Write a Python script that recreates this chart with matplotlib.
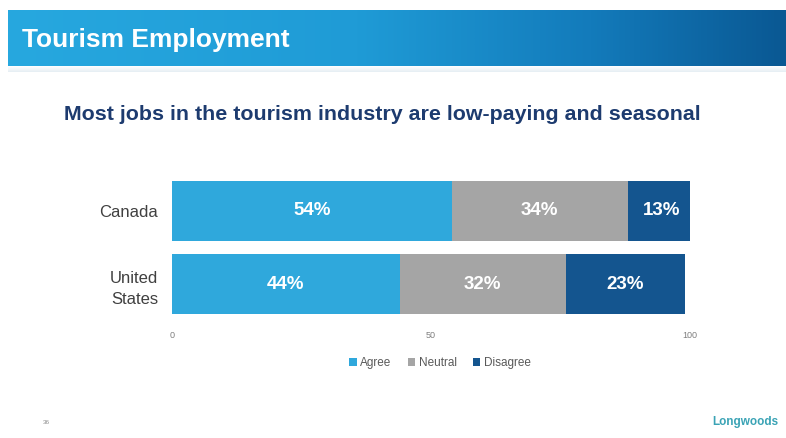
import numpy as np
import matplotlib
matplotlib.use("Agg")
import matplotlib.pyplot as plt
from matplotlib.colors import LinearSegmentedColormap
from matplotlib.patches import Patch

# Survey responses: "Most jobs in the tourism industry are low-paying and seasonal"
countries = ["Canada", "United\nStates"]
agree = [54, 44]
neutral = [34, 32]
disagree = [13, 23]
series_names = ["Agree", "Neutral", "Disagree"]
x_ticks = [0, 50, 100]

colors = ["#2fa8dc", "#a5a5a5", "#14558f"]

W, H = 786, 438
fig = plt.figure(figsize=(W / 100, H / 100), dpi=100)
fig.patch.set_facecolor("white")

# Header band with horizontal gradient
hdr = fig.add_axes([8 / W, 1 - 66 / H, 1 - 8 / W, 56 / H])
cmap = LinearSegmentedColormap.from_list(
    "hdr", [(0, "#27a8df"), (0.45, "#1f9bd6"), (0.75, "#137bbb"), (1, "#0a5893")])
grad = np.linspace(0, 1, 512).reshape(1, -1)
hdr.imshow(grad, aspect="auto", cmap=cmap, extent=[0, 1, 0, 1])
hdr.set_axis_off()
hdr.text(0.018, 0.47, "Tourism Employment", color="white", fontsize=19,
         fontweight="bold", va="center", ha="left", family="Liberation Sans")

# Soft shadow under the header
shadow = fig.add_axes([8 / W, 1 - 72 / H, 1 - 8 / W, 6 / H])
sh = np.linspace(0, 1, 32).reshape(-1, 1)
shadow.imshow(sh, aspect="auto", cmap=LinearSegmentedColormap.from_list(
    "sh", ["#ffffff", "#e6eef4"]), extent=[0, 1, 0, 1])
shadow.set_axis_off()

fig.text(382 / W, 1 - 115 / H,
         "Most jobs in the tourism industry are low-paying and seasonal",
         color="#1d3b6f", fontsize=15.4, fontweight="bold", ha="center",
         va="center", family="Liberation Sans")

# Stacked horizontal bars
ax = fig.add_axes([172 / W, 1 - 320 / H, (690 - 172) / W, 145 / H])
ypos = [1, 0]
left = np.zeros(len(countries))
for name, vals, col in zip(series_names, [agree, neutral, disagree], colors):
    vals = np.array(vals, dtype=float)
    ax.barh(ypos, vals, left=left, height=0.82, color=col, label=name)
    for y, l, v in zip(ypos, left, vals):
        ax.text(l + v / 2, y, f"{int(v)}%", color="white", fontsize=13.5,
                fontweight="bold", ha="center", va="center",
                family="Liberation Sans")
    left += vals

ax.set_xlim(0, 100)
ax.set_ylim(-0.493, 1.493)
ax.set_xticks(x_ticks)
ax.set_xticklabels([str(t) for t in x_ticks], fontsize=6.5, color="#7f7f7f",
                   family="Liberation Sans")
ax.set_yticks(ypos)
ax.set_yticklabels(countries, fontsize=12, color="#404040",
                   family="Liberation Sans", linespacing=1.5)
ax.tick_params(axis="both", length=0)
ax.tick_params(axis="x", pad=8)
ax.tick_params(axis="y", pad=10)
for s in ax.spines.values():
    s.set_visible(False)

handles = [Patch(facecolor=c, edgecolor="none") for c in colors]
fig.legend(handles, series_names, loc="center", bbox_to_anchor=(440 / W, 1 - 363 / H),
           ncol=3, frameon=False, handlelength=0.6, handleheight=0.6,
           handletextpad=0.3, columnspacing=1.4,
           prop={"family": "Liberation Sans", "size": 8.5}, labelcolor="#595959")

# Footer: page number and brand
fig.text(46 / W, 1 - 422 / H, "36", fontsize=4.5, color="#8c8c8c",
         ha="center", va="center", family="Liberation Sans")
fig.text(745 / W, 1 - 422 / H, "Longwoods", fontsize=8.5, color="#3aa3b5",
         ha="center", va="center", fontweight="bold", family="Liberation Sans")

fig.savefig("out.png", dpi=100, facecolor="white")
